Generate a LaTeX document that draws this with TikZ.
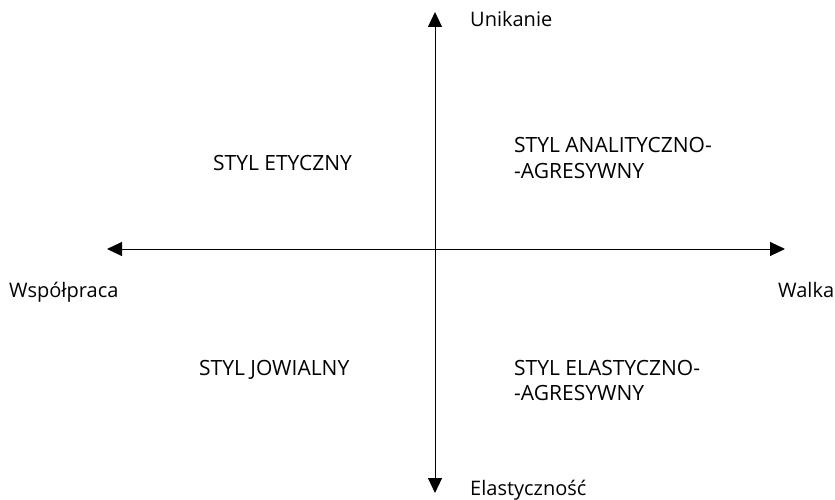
\documentclass[tikz,border=0pt]{standalone}
\usepackage{fontspec}
\setmainfont{Open Sans}
\usetikzlibrary{arrows.meta}

\begin{document}
\begin{tikzpicture}[x=1pt,y=-1pt,
  axis line/.style={line width=1pt,{Triangle[length=15pt,width=14pt]}-{Triangle[length=15pt,width=14pt]}},
  end label/.style={font=\fontsize{20}{25}\selectfont,anchor=base west,inner sep=0pt},
  style label/.style={font=\fontsize{21}{25}\selectfont,anchor=base west,align=left,inner sep=0pt}]
  \useasboundingbox (0,0) rectangle (835,500);
  \coordinate (top) at (435,12);
  \coordinate (bottom) at (435,493);
  \coordinate (left) at (107,249);
  \coordinate (right) at (785,249);

  \draw[axis line] (top) -- (bottom);
  \draw[axis line] (left) -- (right);

  \node[end label] (unik) at (470,27) {Unikanie};
  \node[end label] (elast) at (470,495) {Elastyczność};
  \node[end label] (wsp) at (9,297) {Współpraca};
  \node[end label] (walka) at (778,297) {Walka};

  % base of a two-line label = baseline of its last line
  \node[style label] (etyczny) at (213,170) {STYL ETYCZNY};
  \node[style label] (analit) at (514,178) {STYL ANALITYCZNO-\\-AGRESYWNY};
  \node[style label] (jowialny) at (199,375) {STYL JOWIALNY};
  \node[style label] (elastyczny) at (514,400) {STYL ELASTYCZNO-\\-AGRESYWNY};
\end{tikzpicture}
\end{document}
